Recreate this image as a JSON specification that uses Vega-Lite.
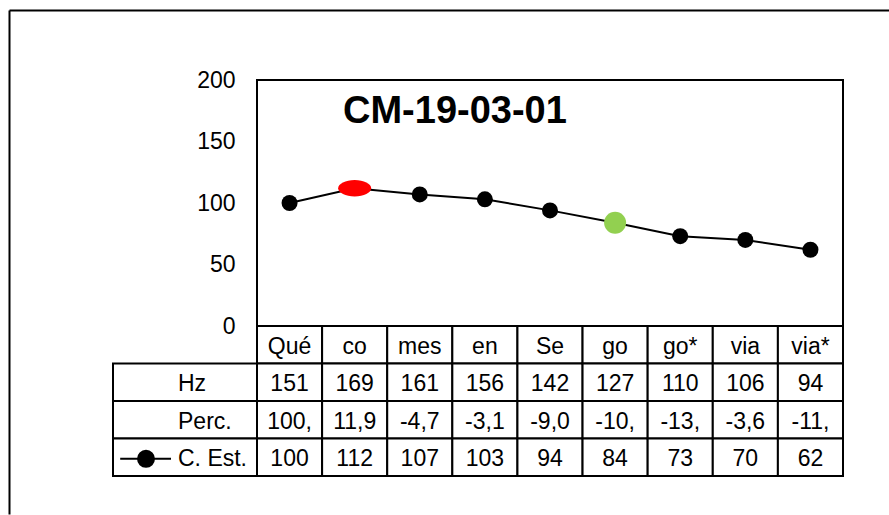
{
  "$schema": "https://vega.github.io/schema/vega-lite/v6.json",
  "padding": {"left": 6, "top": 10, "right": 0, "bottom": 0},
  "autosize": {"type": "pad"},
  "background": "white",
  "bounds": "flush",
  "spacing": 0,
  "columns": 2,
  "config": {
    "view": {"stroke": null},
    "font": "Liberation Sans",
    "text": {"font": "Liberation Sans"},
    "concat": {"spacing": 0}
  },
  "datasets": {
    "syll": [
      {"syl": "Qué", "hz": 151, "perc": "100,", "est": 100},
      {"syl": "co", "hz": 169, "perc": "11,9", "est": 112},
      {"syl": "mes", "hz": 161, "perc": "-4,7", "est": 107},
      {"syl": "en", "hz": 156, "perc": "-3,1", "est": 103},
      {"syl": "Se", "hz": 142, "perc": "-9,0", "est": 94},
      {"syl": "go", "hz": 127, "perc": "-10,", "est": 84},
      {"syl": "go*", "hz": 110, "perc": "-13,", "est": 73},
      {"syl": "via", "hz": 106, "perc": "-3,6", "est": 70},
      {"syl": "via*", "hz": 94, "perc": "-11,", "est": 62}
    ],
    "rows": [
      {"row": "hz", "label": "Hz"},
      {"row": "perc", "label": "Perc."},
      {"row": "est", "label": "C. Est."}
    ]
  },
  "concat": [
    {
      "width": 144,
      "height": 246,
      "data": {"values": [{}]},
      "mark": {"type": "point", "opacity": 0},
      "encoding": {
        "x": {"datum": 0, "type": "quantitative",
          "scale": {"domain": [0, 1], "range": [-104, 776]},
          "axis": {"orient": "top", "offset": 70, "labels": false, "ticks": false, "grid": false, "domain": true, "domainColor": "black", "domainWidth": 2, "title": null}},
        "y": {"datum": 0, "type": "quantitative",
          "scale": {"domain": [0, 1], "range": [434, -70]},
          "axis": {"orient": "left", "offset": 104, "labels": false, "ticks": false, "grid": false, "domain": true, "domainColor": "black", "domainWidth": 2, "title": null}}
      }
    },
    {
      "width": 586,
      "height": 246,
      "view": {"stroke": "black", "strokeWidth": 2},
      "title": {"text": "CM-19-03-01", "fontSize": 38, "fontWeight": "bold", "font": "Liberation Sans", "color": "black", "anchor": "start", "frame": "group", "dx": 86, "offset": -92, "baseline": "alphabetic"},
      "data": {"name": "syll"},
      "encoding": {
        "x": {"field": "syl", "type": "nominal", "sort": null,
          "scale": {"type": "point", "padding": 0.5}, "axis": null},
        "y": {"field": "est", "type": "quantitative",
          "scale": {"domain": [0, 200]},
          "axis": {"values": [0, 50, 100, 150, 200], "ticks": false, "grid": false, "domain": false, "labelFontSize": 23, "labelColor": "black", "labelPadding": 22, "labelFont": "Liberation Sans", "title": null}}
      },
      "layer": [
        {"mark": {"type": "line", "color": "black", "strokeWidth": 2}},
        {"transform": [{"filter": "datum.syl !== 'co' && datum.syl !== 'go'"}],
          "mark": {"type": "point", "shape": "circle", "filled": true, "color": "black", "size": 256, "opacity": 1}},
        {"transform": [{"filter": "datum.syl === 'co'"}],
          "mark": {"type": "point", "shape": "M-1,0A1,0.5,0,1,1,1,0A1,0.5,0,1,1,-1,0Z", "filled": true, "color": "#FF0000", "size": 1089, "opacity": 1}},
        {"transform": [{"filter": "datum.syl === 'go'"}],
          "mark": {"type": "point", "shape": "circle", "filled": true, "color": "#92D050", "size": 484, "opacity": 1}}
      ]
    },
    {
      "width": 144,
      "height": 150,
      "data": {"name": "rows"},
      "encoding": {
        "y": {"field": "row", "type": "nominal",
          "scale": {"domain": ["syl", "hz", "perc", "est"], "paddingInner": 0, "paddingOuter": 0}, "axis": null}
      },
      "layer": [
        {"mark": {"type": "rect", "fill": "white", "stroke": "black", "strokeWidth": 2}},
        {"mark": {"type": "text", "align": "left", "baseline": "middle", "dx": -7, "dy": 2, "fontSize": 23, "color": "black", "font": "Liberation Sans"},
          "encoding": {"text": {"field": "label"}}},
        {"transform": [{"filter": "datum.row === 'est'"}],
          "mark": {"type": "point", "shape": "M-8.1,0.2H-1.75M-3.875,0.2A1,1,0,1,1,-5.875,0.2A1,1,0,1,1,-3.875,0.2Z", "filled": true, "fill": "black", "stroke": "black", "strokeWidth": 2, "size": 256, "opacity": 1}}
      ]
    },
    {
      "width": 586,
      "height": 150,
      "data": {"name": "syll"},
      "transform": [{"fold": ["syl", "hz", "perc", "est"], "as": ["row", "val"]}],
      "encoding": {
        "x": {"field": "syl", "type": "nominal", "sort": null,
          "scale": {"type": "band", "paddingInner": 0, "paddingOuter": 0}, "axis": null},
        "y": {"field": "row", "type": "nominal",
          "scale": {"domain": ["syl", "hz", "perc", "est"], "paddingInner": 0, "paddingOuter": 0}, "axis": null}
      },
      "layer": [
        {"mark": {"type": "rect", "fill": "white", "stroke": "black", "strokeWidth": 2}},
        {"mark": {"type": "text", "align": "center", "baseline": "middle", "dy": 2, "fontSize": 23, "color": "black", "font": "Liberation Sans"},
          "encoding": {"text": {"field": "val"}}}
      ]
    }
  ]
}
